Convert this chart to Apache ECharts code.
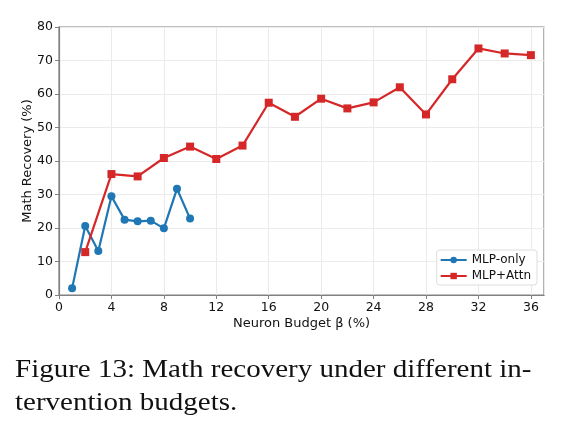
<!DOCTYPE html>
<html>
<head>
<meta charset="utf-8">
<script src="https://cdn.jsdelivr.net/npm/echarts@6/dist/echarts.min.js"></script>
<style>
  html, body { margin: 0; padding: 0; background: #fff; }
  #main { width: 570px; height: 436px; }
</style>
</head>
<body>
<div id="main"></div>
<script>
// budgets (%) and recovery (%)
var mlpX = [1, 2, 3, 4, 5, 6, 7, 8, 9, 10];
var mlpY = [2.0, 20.6, 13.1, 29.5, 22.5, 22.0, 22.2, 19.9, 31.7, 22.8];
var attnX = [2, 4, 6, 8, 10, 12, 14, 16, 18, 20, 22, 24, 26, 28, 30, 32, 34, 36];
var attnY = [12.8, 36.1, 35.4, 40.9, 44.3, 40.6, 44.6, 57.4, 53.2, 58.6, 55.7, 57.5, 62.0, 53.9, 64.4, 73.6, 72.1, 71.6];
var captionLines = ['Figure 13: Math recovery under different in-', 'tervention budgets.'];

function pairs(xs, ys) {
    return xs.map(function (x, i) { return [x, ys[i]]; });
}

window.onload = function () {
    var myChart = echarts.init(document.getElementById('main'));
    var font = 'DejaVu Sans';
    var option = {
        animation: false,
        textStyle: { fontFamily: font },
        grid: {
            left: 59, top: 27, width: 485, height: 268,
            show: true, borderColor: '#808080', borderWidth: 1.2
        },
        legend: {
            right: 33, top: 250,
            orient: 'vertical',
            itemWidth: 26, itemHeight: 8, itemGap: 4,
            padding: [4, 6, 3, 3],
            borderColor: '#ddd', borderWidth: 1, borderRadius: 3,
            backgroundColor: '#fff',
            textStyle: { fontSize: 12, color: '#111', fontFamily: font },
            data: ['MLP-only', 'MLP+Attn']
        },
        xAxis: {
            type: 'value', min: 0, max: 37, interval: 4,
            name: 'Neuron Budget β (%)', nameLocation: 'middle', nameGap: 22,
            nameMoveOverlap: false,
            nameTextStyle: { fontSize: 13, color: '#111' },
            axisLine: { show: true, lineStyle: { color: '#808080', width: 1.2 } },
            axisTick: { show: true, length: 4, lineStyle: { color: '#808080' } },
            axisLabel: {
                fontSize: 12.5, color: '#111', margin: 6, showMaxLabel: false,
                formatter: function (v) { return v % 4 === 0 ? String(v) : ''; }
            },
            splitLine: { show: true, lineStyle: { color: '#ebebeb', width: 1 } }
        },
        yAxis: {
            type: 'value', min: 0, max: 80, interval: 10,
            name: 'Math Recovery (%)', nameLocation: 'middle', nameGap: 25,
            nameMoveOverlap: false,
            nameTextStyle: { fontSize: 13, color: '#111' },
            axisLine: { show: true, lineStyle: { color: '#808080', width: 1.2 } },
            axisTick: { show: true, length: 4, lineStyle: { color: '#808080' } },
            axisLabel: { fontSize: 12.5, color: '#111', margin: 6 },
            splitLine: { show: true, lineStyle: { color: '#ebebeb', width: 1 } }
        },
        series: [{
            name: 'MLP-only',
            type: 'line',
            data: pairs(mlpX, mlpY),
            symbol: 'circle', symbolSize: 8,
            itemStyle: { color: '#1f77b4' },
            lineStyle: { color: '#1f77b4', width: 2.2 }
        }, {
            name: 'MLP+Attn',
            type: 'line',
            data: pairs(attnX, attnY),
            symbol: 'rect', symbolSize: 8,
            itemStyle: { color: '#d62728' },
            lineStyle: { color: '#d62728', width: 2.2 }
        }],
        graphic: [{
            type: 'text', x: 15, y: 354, scaleX: 1.16,
            style: {
                text: captionLines.join('\n'),
                font: '25px "Liberation Serif"',
                lineHeight: 33,
                fill: '#111'
            }
        }]
    };
    myChart.setOption(option);
    window.addEventListener('resize', function () {
        myChart.resize();
    });
};
</script>
</body>
</html>
